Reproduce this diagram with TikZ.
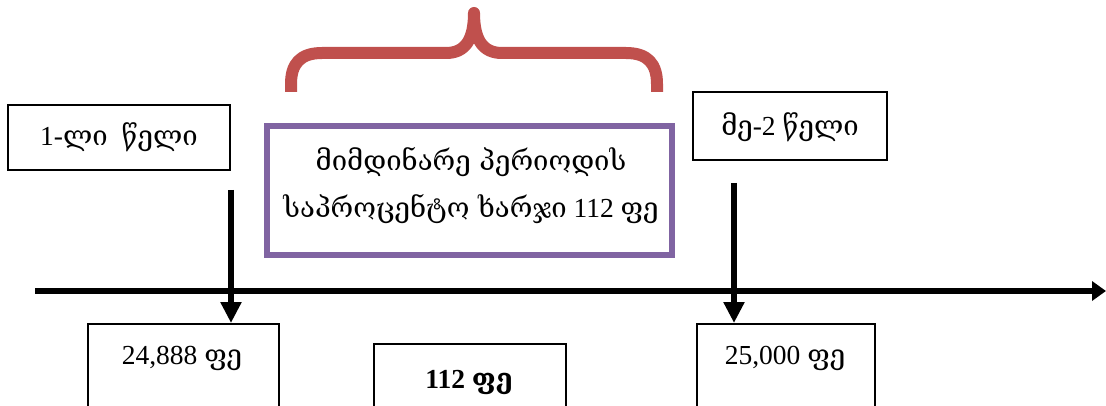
\documentclass[tikz,border=0pt]{standalone}
\usepackage{fontspec}
\setmainfont{Liberation Serif}
\newfontfamily\geo{DejaVu Serif}
\usetikzlibrary{arrows.meta}
\definecolor{bracered}{HTML}{C0504D}
\definecolor{boxpurple}{HTML}{8064A2}
\tikzset{
  yearbox/.style={draw=black, line width=1.5pt, inner sep=0pt},
  valbox/.style={draw=black, line width=1.5pt, inner sep=0pt, anchor=north west},
  lbl/.style={font=\fontsize{27.5}{32}\selectfont, inner sep=0pt},
  thickarrow/.style={line width=6pt, -{Triangle[width=20pt,length=21pt]}},
  axisarrow/.style={line width=6pt, -{Triangle[width=19pt,length=14pt]}}
}
\begin{document}
\begin{tikzpicture}[x=1pt,y=-1pt]
\useasboundingbox (0,0) rectangle (1106,406);
\clip (0,0) rectangle (1106,406);

% year boxes
\node[yearbox, minimum width=222pt, minimum height=65pt] (y1) at (119,137.5) {};
\node[lbl] (y1t) at (119,137) {1-{\geo ლი}\ \ {\geo წელი}};
\node[yearbox, minimum width=194pt, minimum height=68pt] (y2) at (790,126) {};
\node[lbl] (y2t) at (790,127) {{\geo მე}-2 {\geo წელი}};

% interest box
\node[draw=boxpurple, line width=6pt, minimum width=405pt, minimum height=128.5pt, inner sep=0pt] (ib) at (469,190.75) {};
\node[lbl, align=center, font=\fontsize{27.5}{47}\selectfont] (ibt) at (471,186)
  {{\geo მიმდინარე პერიოდის}\\{\geo საპროცენტო ხარჯი} 112 {\geo ფე}};

% brace over the interest box
\draw[bracered, line width=12pt, line join=round]
  (291,92) -- (291,84) .. controls (291,64) and (300,53) .. (322,53)
  -- (446,53) .. controls (465,53) and (474,40) .. (474,13)
  .. controls (474,40) and (483,53) .. (502,53)
  -- (626,53) .. controls (648,53) and (657,64) .. (657,84) -- (657,92);

% time axis
\coordinate (ax0) at (35,291);
\coordinate (ax1) at (1106,291);
\draw[axisarrow] (ax0) -- (ax1);

% value boxes
\node[valbox, minimum width=191pt, minimum height=110pt] (v1) at (87,323) {};
\node[lbl] (v1t) at (182,358) {24,888 {\geo ფე}};
\node[valbox, minimum width=192pt, minimum height=90pt] (v2) at (373,343) {};
\node[lbl, font=\fontsize{27.5}{32}\selectfont\bfseries] (v2t) at (469,382) {112 {\geo\bfseries ფე}};
\node[valbox, minimum width=178pt, minimum height=110pt] (v3) at (696,323) {};
\node[lbl] (v3t) at (785,358) {25,000 {\geo ფე}};

% arrows from the years down to the amounts
\coordinate (a1) at (231,190);
\coordinate (a2) at (734,183);
\draw[thickarrow] (a1) -- (a1 |- v1.north);
\draw[thickarrow] (a2) -- (a2 |- v3.north);
\end{tikzpicture}
\end{document}
